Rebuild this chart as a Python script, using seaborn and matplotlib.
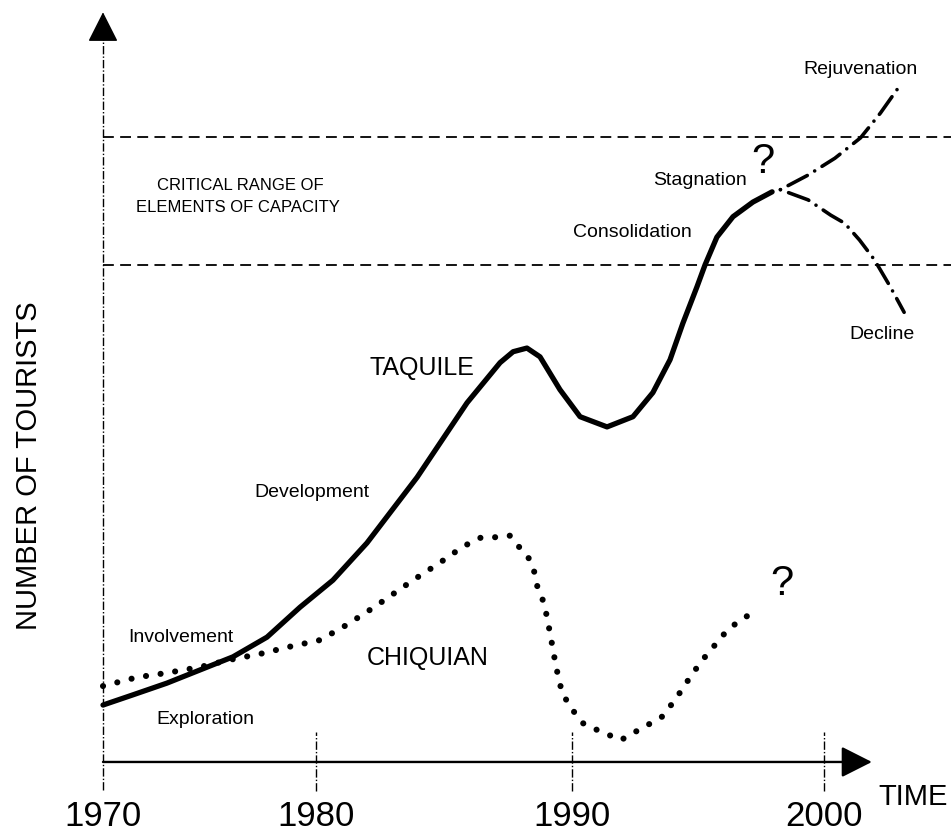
import numpy as np
import pandas as pd
import matplotlib
matplotlib.use('Agg')
import matplotlib.pyplot as plt
import seaborn as sns

# Taquile (solid line)
taquile_year = [1970.00, 1971.41, 1973.00, 1974.55, 1976.10, 1977.70, 1979.25, 1980.66,
                1981.99, 1983.95, 1985.90, 1987.19, 1987.70, 1988.24, 1988.75, 1989.53,
                1990.32, 1991.39, 1992.42, 1993.21, 1993.89, 1994.40, 1994.96, 1995.28,
                1995.75, 1996.39, 1997.18, 1997.94]
taquile_val = [7.8, 9.2, 10.8, 12.6, 14.4, 17.1, 21.2, 24.9,
               30.0, 39.0, 49.2, 54.7, 56.2, 56.7, 55.5, 51.0,
               47.3, 45.9, 47.3, 50.6, 55.1, 60.1, 65.1, 68.1,
               71.9, 74.7, 76.7, 78.1]

# Chiquian (dotted line)
chiquian_year = [1970.00, 1971.60, 1973.00, 1974.55, 1975.96, 1977.37, 1978.78, 1980.16,
                 1981.21, 1982.27, 1983.79, 1984.84, 1985.74, 1986.41, 1987.07, 1987.58,
                 1987.97, 1988.36, 1988.55, 1988.67, 1988.91, 1989.14, 1989.38, 1989.61,
                 1989.96, 1990.44, 1990.99, 1991.94, 1992.50, 1993.02, 1993.57, 1994.09,
                 1994.80, 1995.28, 1996.15, 1996.59, 1997.14]
chiquian_val = [10.4, 11.6, 12.2, 13.0, 14.0, 14.8, 15.8, 16.7,
                18.8, 21.2, 24.9, 27.3, 29.5, 30.7, 30.8, 31.0,
                29.3, 27.7, 25.8, 23.6, 21.8, 17.7, 13.0, 9.5,
                7.4, 5.3, 4.4, 3.0, 4.1, 5.1, 6.2, 8.5,
                12.2, 14.4, 18.0, 19.2, 20.4]

# future scenarios (dash-dot)
decline_year = [1998.27, 1999.37, 2000.27, 2000.82, 2001.41, 2002.00, 2002.63, 2003.18]
decline_val = [78.4, 77.0, 74.9, 73.8, 71.5, 68.8, 65.1, 61.6]
rejuv_year = [1998.27, 1999.37, 2000.43, 2001.45, 2002.24, 2003.02]
rejuv_val = [78.4, 80.4, 82.7, 85.5, 88.9, 92.7]

critical_range = [68.1, 85.6]
year_ticks = [1970, 1980, 1990, 2000]

# the time axis of the original drawing is not evenly spaced
scale_years = [1960, 1970, 1980, 1990, 2000, 2010]
scale_pos = [-213, 0, 213, 469, 721, 973]


def fwd(v):
    return np.interp(v, scale_years, scale_pos, left=-1e4, right=1e4)


def inv(p):
    return np.interp(p, scale_pos, scale_years)


sns.set_theme(style='white')
plt.rcParams['font.family'] = ['Liberation Sans', 'DejaVu Sans']
plt.rcParams['text.color'] = 'black'

fig = plt.figure(figsize=(9.51, 8.33), dpi=100)
ax = fig.add_axes([0, 0, 1, 1])
ax.set_xscale('function', functions=(fwd, inv))
ax.set_xlim(inv(-103), inv(848))
ax.set_ylim(-9.73, 104.38)
ax.axis('off')

taq = pd.DataFrame({'year': taquile_year, 'tourists': taquile_val})
chq = pd.DataFrame({'year': chiquian_year, 'tourists': chiquian_val})
dec = pd.DataFrame({'year': decline_year, 'tourists': decline_val})
rej = pd.DataFrame({'year': rejuv_year, 'tourists': rejuv_val})

# critical range lines
for yv in critical_range:
    ax.plot([1970, inv(848)], [yv, yv], color='black', lw=1.3,
            linestyle=(0, (6, 3.5)))

# axes drawn by hand
ax.plot([1970, 1970], [-3.84, 99.3], color='black', lw=1.0,
        linestyle=(0, (6, 1.5, 1, 1.5)))
ax.annotate('', xy=(1970, 102.7), xytext=(1970, 99.0),
            arrowprops=dict(arrowstyle='-|>,head_length=0.95,head_width=0.48',
                            mutation_scale=20, color='black', lw=1,
                            shrinkA=0, shrinkB=0))
for yr in year_ticks[1:]:
    ax.plot([yr, yr], [-4.0, 4.1], color='black', lw=1.0,
            linestyle=(0, (6, 1.5, 1, 1.5)))
ax.annotate('', xy=(2001.9, 0), xytext=(1970, 0),
            arrowprops=dict(arrowstyle='-|>,head_length=0.95,head_width=0.48',
                            mutation_scale=20, color='black', lw=1.7,
                            shrinkA=0, shrinkB=0))

# curves
sns.lineplot(data=taq, x='year', y='tourists', ax=ax, color='black', lw=3.8,
             solid_capstyle='round', solid_joinstyle='round')
sns.lineplot(data=chq, x='year', y='tourists', ax=ax, color='black', lw=4.4,
             linestyle=(0, (0.01, 2.4)), dash_capstyle='round')
sns.lineplot(data=dec, x='year', y='tourists', ax=ax, color='black', lw=2.6,
             linestyle=(0, (0.01, 2.4, 6.0, 2.4)), dash_capstyle='round')
sns.lineplot(data=rej, x='year', y='tourists', ax=ax, color='black', lw=2.6,
             linestyle=(0, (0.01, 2.4, 6.0, 2.4)), dash_capstyle='round')

# tick labels and axis titles
for yr in year_ticks:
    ax.text(yr, -7.5, str(yr), ha='center', va='center', fontsize=25)
ax.text(2003.55, -4.8, 'TIME', ha='center', va='center', fontsize=21)
ax.text(1966.53, 40.55, 'NUMBER OF TOURISTS', ha='center', va='center',
        rotation=90, fontsize=21)

# annotations
ax.text(1976.43, 79.0, 'CRITICAL RANGE OF', ha='center', va='center', fontsize=12)
ax.text(1976.34, 75.9, 'ELEMENTS OF CAPACITY', ha='center', va='center', fontsize=12)
ax.text(1995.08, 79.7, 'Stagnation', ha='center', va='center', fontsize=14)
ax.text(1997.58, 82.2, '?', ha='center', va='center', fontsize=30)
ax.text(1992.38, 72.5, 'Consolidation', ha='center', va='center', fontsize=14)
ax.text(2001.43, 94.8, 'Rejuvenation', ha='center', va='center', fontsize=14)
ax.text(2002.30, 58.5, 'Decline', ha='center', va='center', fontsize=14)
ax.text(1984.14, 54.0, 'TAQUILE', ha='center', va='center', fontsize=18)
ax.text(1979.81, 36.85, 'Development', ha='center', va='center', fontsize=14)
ax.text(1973.66, 17.1, 'Involvement', ha='center', va='center', fontsize=14)
ax.text(1984.38, 14.25, 'CHIQUIAN', ha='center', va='center', fontsize=18)
ax.text(1974.79, 5.75, 'Exploration', ha='center', va='center', fontsize=14)
ax.text(1998.33, 24.4, '?', ha='center', va='center', fontsize=30)

plt.savefig('out.png', dpi=100, facecolor='white')
